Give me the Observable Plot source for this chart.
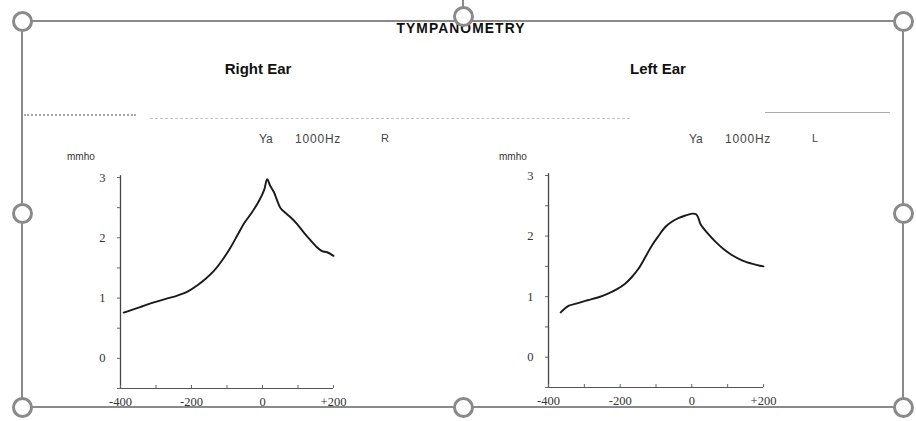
<!DOCTYPE html>
<html>
<head>
<meta charset="utf-8">
<script src="https://cdn.jsdelivr.net/npm/d3@7"></script>
<script src="https://cdn.jsdelivr.net/npm/@observablehq/plot@0.6"></script>
<style>
  body { margin: 0; background: #fff; }
  #page { position: relative; width: 916px; height: 421px; overflow: hidden; background: #fff; font-family: "Liberation Sans", Arial, sans-serif; }
  .txt { position: absolute; white-space: nowrap; color: #222; }
  .chart { position: absolute; }
  .frame { position: absolute; background: #8a8a8a; }
  .handle { position: absolute; width: 21px; height: 21px; border: 3px solid #8a8a8a; border-radius: 50%; background: #fff; box-sizing: border-box; }
</style>
</head>
<body>
<div id="page"></div>
<script>
// ---- data ----
const pressureTicks = [-400, -200, 0, 200];
const pressureMinor = [-400, -300, -200, -100, 0, 100, 200];
const mmhoTicks = [0, 1, 2, 3];
const mmhoMinor = [-0.5, 0, 0.5, 1, 1.5, 2, 2.5, 3];

const rightPressure = [-391, -370, -340, -306, -270, -240, -210, -184, -160, -137, -112, -90, -70, -53, -30, -10, 5, 13, 22, 32, 51, 65, 79, 97, 116, 135, 154, 168, 182, 200];
const rightAdmit    = [0.76, 0.80, 0.86, 0.93, 0.99, 1.04, 1.11, 1.21, 1.32, 1.45, 1.64, 1.84, 2.05, 2.23, 2.42, 2.61, 2.80, 2.97, 2.86, 2.76, 2.49, 2.41, 2.34, 2.23, 2.09, 1.96, 1.84, 1.78, 1.76, 1.70];

const leftPressure = [-366, -355, -343, -320, -291, -260, -234, -210, -187, -168, -149, -130, -111, -92, -74, -55, -36, -18, 1, 12, 18, 24, 45, 67, 90, 114, 140, 170, 190, 200];
const leftAdmit    = [0.74, 0.80, 0.85, 0.89, 0.94, 0.99, 1.05, 1.12, 1.21, 1.32, 1.46, 1.65, 1.85, 2.01, 2.15, 2.24, 2.30, 2.34, 2.37, 2.36, 2.30, 2.20, 2.04, 1.90, 1.78, 1.68, 1.60, 1.54, 1.51, 1.50];

const pageTitle = "TYMPANOMETRY";
const earTitles = ["Right Ear", "Left Ear"];
const probeInfo = ["Ya", "1000Hz"];
const earCodes = ["R", "L"];
const unitLabel = "mmho";

// ---- layout ----
const page = document.getElementById("page");
function addText(str, css) {
  const d = document.createElement("div");
  d.className = "txt";
  d.textContent = str;
  Object.assign(d.style, css);
  page.appendChild(d);
  return d;
}
function fmtX(d) { return d > 0 ? "+" + d : String(d); }

function tymp(xs, ys, opts) {
  const data = xs.map((x, i) => ({x, y: ys[i]}));
  return Plot.plot({
    width: 280, height: 260,
    marginLeft: opts.ml, marginRight: opts.mr, marginTop: opts.mt, marginBottom: opts.mb,
    x: {domain: [-400, 200]},
    y: {domain: [-0.5, 3]},
    style: {fontFamily: "'Liberation Serif', 'DejaVu Serif', serif", fontSize: "12.5px", color: "#333", background: "transparent", overflow: "visible"},
    marks: [
      Plot.ruleX([-400], {y1: -0.5, y2: 3.03, stroke: "#444", strokeWidth: 1.3}),
      Plot.ruleY([-0.5], {x1: -400, x2: 200, stroke: "#555", strokeWidth: 1.1}),
      Plot.axisY({ticks: mmhoMinor, tickSize: 3, tickFormat: () => "", label: null, stroke: "#666"}),
      Plot.axisY({ticks: mmhoTicks, tickSize: 0, tickPadding: 15, tickFormat: d => String(d), label: null}),
      Plot.ruleX(pressureMinor, {y1: -0.5, y2: -0.45, stroke: "#666"}),
      Plot.axisX({ticks: pressureTicks, tickSize: 0, tickPadding: 9, tickFormat: fmtX, label: null}),
      Plot.line(data, {x: "x", y: "y", stroke: "#1a1a1a", strokeWidth: 1.9, curve: "catmull-rom"})
    ]
  });
}

const right = tymp(rightPressure, rightAdmit, {ml: 50, mr: 17, mt: 27, mb: 22});
right.classList.add("chart");
right.style.left = "70px"; right.style.top = "150px";
page.appendChild(right);

const left = tymp(leftPressure, leftAdmit, {ml: 48, mr: 17, mt: 25, mb: 23});
left.classList.add("chart");
left.style.left = "500px"; left.style.top = "150px";
page.appendChild(left);

// texts
addText(pageTitle, {left: "461px", top: "19px", transform: "translateX(-50%) scaleX(0.92)", fontWeight: "bold", fontSize: "15px", letterSpacing: "1.2px", color: "#111"});
addText(earTitles[0], {left: "258px", top: "60px", transform: "translateX(-50%)", fontWeight: "bold", fontSize: "15px", color: "#111"});
addText(earTitles[1], {left: "658px", top: "60px", transform: "translateX(-50%)", fontWeight: "bold", fontSize: "15px", color: "#111"});

addText(probeInfo[0], {left: "259px", top: "132px", fontSize: "12px", color: "#444"});
addText(probeInfo[1], {left: "295px", top: "132px", fontSize: "12px", color: "#444", letterSpacing: "0.8px"});
addText(earCodes[0], {left: "381px", top: "132px", fontSize: "11px", color: "#444"});
addText(probeInfo[0], {left: "689px", top: "132px", fontSize: "12px", color: "#444"});
addText(probeInfo[1], {left: "725px", top: "132px", fontSize: "12px", color: "#444", letterSpacing: "0.8px"});
addText(earCodes[1], {left: "812px", top: "132px", fontSize: "11px", color: "#444"});

addText(unitLabel, {left: "67px", top: "151px", fontSize: "10px", color: "#333"});
addText(unitLabel, {left: "499px", top: "151px", fontSize: "10px", color: "#333"});

// scan remnants (faint divider)
const noise = document.createElement("div");
Object.assign(noise.style, {position: "absolute", left: "150px", top: "118px", width: "480px", height: "0", borderTop: "1.5px dashed #c4c4c4"});
page.appendChild(noise);
const noise2 = document.createElement("div");
Object.assign(noise2.style, {position: "absolute", left: "765px", top: "112px", width: "125px", height: "0", borderTop: "1.5px solid #aaa"});
page.appendChild(noise2);
const noise3 = document.createElement("div");
Object.assign(noise3.style, {position: "absolute", left: "24px", top: "114px", width: "112px", height: "0", borderTop: "2px dotted #aaa"});
page.appendChild(noise3);

// selection frame with handles
function frame(x, y, w, h) {
  const d = document.createElement("div");
  d.className = "frame";
  Object.assign(d.style, {left: x + "px", top: y + "px", width: w + "px", height: h + "px"});
  page.appendChild(d);
}
frame(21, 20, 882, 2);
frame(21, 406, 882, 2);
frame(21, 20, 2, 388);
frame(902, 20, 2, 388);
frame(462, 0, 2, 8);
function handle(cx, cy) {
  const d = document.createElement("div");
  d.className = "handle";
  Object.assign(d.style, {left: (cx - 10.5) + "px", top: (cy - 10.5) + "px"});
  page.appendChild(d);
}
[[22, 21], [463, 16], [903, 21], [22, 213], [903, 213], [22, 407], [463, 407], [903, 407]].forEach(([a, b]) => handle(a, b));
</script>
</body>
</html>
